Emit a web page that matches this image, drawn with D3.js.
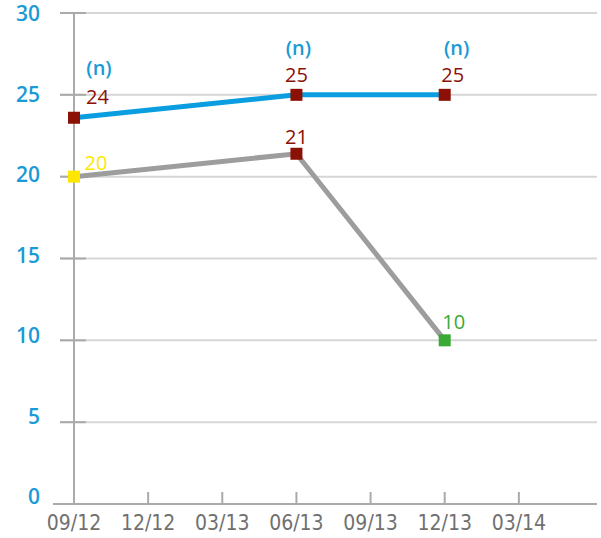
<!DOCTYPE html>
<html><head><meta charset="utf-8">
<script src="https://cdn.jsdelivr.net/npm/d3@7"></script>
<style>
body{margin:0;background:#fff;}
svg{display:block;font-family:"Open Sans","DejaVu Sans",sans-serif;}
</style></head><body>
<svg id="c" width="601" height="538"></svg>
<script>
const quarters = ["09/12","12/12","03/13","06/13","09/13","12/13","03/14"];
const yTicks = [0,5,10,15,20,25,30];
const blueIdx = [0,3,5];
const blueValues = [23.6,25,25];
const blueLabels = ["24","25","25"];
const nLabels = ["(n)","(n)","(n)"];
const grayIdx = [0,3,5];
const grayValues = [20,21.4,10];
const grayLabels = ["20","21","10"];
const grayMarkerColors = ["#ffe600","#8b1005","#3aa935"];

const svg = d3.select("#c");
const x = d3.scaleLinear().domain([0,7]).range([74,593]);
const y = d3.scaleLinear().domain([0,30]).range([504,13]);

svg.append("g").selectAll("line").data(yTicks.filter(d=>d>0)).join("line")
  .attr("x1",60).attr("x2",597).attr("y1",d=>y(d)).attr("y2",d=>y(d))
  .attr("stroke","#d6d6d6").attr("stroke-width",2);
svg.append("g").selectAll("line").data(yTicks).join("line")
  .attr("x1",60).attr("x2",86).attr("y1",d=>y(d)).attr("y2",d=>y(d))
  .attr("stroke","#aaa").attr("stroke-width",2);
svg.append("line").attr("x1",x(0)).attr("x2",x(0)).attr("y1",y(30)).attr("y2",y(0))
  .attr("stroke","#aaa").attr("stroke-width",2);
svg.append("line").attr("x1",53).attr("x2",597).attr("y1",y(0)).attr("y2",y(0))
  .attr("stroke","#aaa").attr("stroke-width",2);
svg.append("g").selectAll("line").data(quarters.slice(1)).join("line")
  .attr("x1",(d,i)=>x(i+1)).attr("x2",(d,i)=>x(i+1)).attr("y1",y(0)).attr("y2",y(0)-12)
  .attr("stroke","#aaa").attr("stroke-width",2);
svg.append("g").selectAll("text").data(yTicks).join("text")
  .attr("x",40).attr("y",d=>y(d)+8*d/30).attr("text-anchor","end")
  .attr("fill","#1a9ad6").attr("font-size",21).attr("font-weight",600).text(d=>d);
svg.append("g").selectAll("text").data(quarters).join("text")
  .attr("x",(d,i)=>x(i)).attr("y",530).attr("text-anchor","middle")
  .attr("fill","#707070").attr("font-size",21)
  .attr("font-family","'Liberation Sans Narrow','DejaVu Sans Condensed',sans-serif")
  .text(d=>d);

const line = d3.line().x(d=>x(d[0])).y(d=>y(d[1]));
const gray = grayIdx.map((k,i)=>[k,grayValues[i]]);
const blue = blueIdx.map((k,i)=>[k,blueValues[i]]);
svg.append("path").attr("d",line(gray)).attr("fill","none").attr("stroke","#9d9d9d").attr("stroke-width",5);
svg.append("path").attr("d",line(blue)).attr("fill","none").attr("stroke","#0a9ee0").attr("stroke-width",5);

const ms = 12;
svg.append("g").selectAll("rect").data(gray).join("rect")
  .attr("x",d=>x(d[0])-ms/2).attr("y",d=>y(d[1])-ms/2).attr("width",ms).attr("height",ms)
  .attr("fill",(d,i)=>grayMarkerColors[i]);
svg.append("g").selectAll("rect").data(blue).join("rect")
  .attr("x",d=>x(d[0])-ms/2).attr("y",d=>y(d[1])-ms/2).attr("width",ms).attr("height",ms)
  .attr("fill","#8b1005");

const lbl = (g,data,texts,dx,dy,fill,w)=>g.selectAll("text").data(data).join("text")
  .attr("x",(d,i)=>x(d[0])+dx[i]).attr("y",(d,i)=>y(d[1])+dy[i]).attr("text-anchor","middle")
  .attr("fill",typeof fill==="function"?fill:()=>fill).attr("font-size",20).attr("font-weight",w)
  .text((d,i)=>texts[i]);
lbl(svg.append("g"),blue,blueLabels,[23.5,0,8],[-14,-13,-13],"#8b1005",400);
lbl(svg.append("g"),blue,nLabels,[25,2,12],[-43,-40,-40],"#1a9ad6",600);
lbl(svg.append("g"),gray,grayLabels,[22,0,9],[-7,-10,-11],(d,i)=>grayMarkerColors[i],400);
</script></body></html>
